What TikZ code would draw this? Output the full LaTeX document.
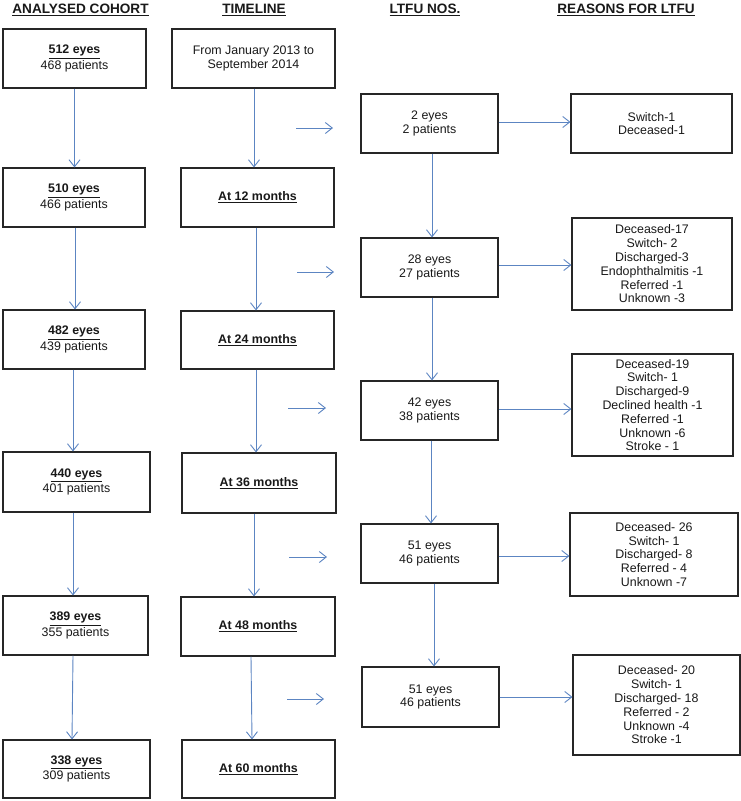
\documentclass[tikz,border=0pt]{standalone}
\usepackage{fontspec}
\setmainfont{Liberation Sans}
\usetikzlibrary{arrows.meta}
\definecolor{arr}{RGB}{92,133,194}
\newcommand{\myul}[1]{\underline{#1}}
\tikzset{
  box/.style={draw=black!85, line width=1.1pt, inner sep=0pt, align=center,
    text=black!90, font=\fontsize{12.4}{13.8}\selectfont},
  conn/.style={draw=arr, line width=0.9pt,
    -{Straight Barb[length=7pt,width=11pt,line width=0.9pt]}},
  hdr/.style={font=\fontsize{13.6}{15}\selectfont\bfseries, inner sep=0pt, text=black!90, anchor=base}
}
\begin{document}
\begin{tikzpicture}[x=1pt,y=-1pt]
\useasboundingbox[fill=white] (0,0) rectangle (741,801);

% headers
\node[hdr] (h1) at (80.5,13.5) {\myul{ANALYSED COHORT}};
\node[hdr] (h2) at (254,13.5) {\myul{TIMELINE}};
\node[hdr] (h3) at (425,13.5) {\myul{LTFU NOS.}};
\node[hdr] (h4) at (626,13.5) {\myul{REASONS FOR LTFU}};

% analysed cohort column
\node[box, minimum width=143, minimum height=59] (c1) at (74.5,58.5) {\textbf{\myul{512 eyes}}\\[1.5pt]468 patients};
\node[box, minimum width=142, minimum height=59] (c2) at (74,197.5) {\textbf{\myul{510 eyes}}\\[1.5pt]466 patients};
\node[box, minimum width=142, minimum height=59] (c3) at (74,339.5) {\textbf{\myul{482 eyes}}\\[1.5pt]439 patients};
\node[box, minimum width=147, minimum height=60] (c4) at (76.5,482) {\textbf{\myul{440 eyes}}\\[1.5pt]401 patients};
\node[box, minimum width=145, minimum height=59] (c5) at (75.5,625.5) {\textbf{\myul{389 eyes}}\\[1.5pt]355 patients};
\node[box, minimum width=147, minimum height=58] (c6) at (76.5,769) {\textbf{\myul{338 eyes}}\\[1.5pt]309 patients};

% timeline column
\node[box, minimum width=163, minimum height=59] (t1) at (253.5,58.5) {From January 2013 to\\September 2014};
\node[box, minimum width=153, minimum height=59] (t2) at (257.5,197.5) {\textbf{\myul{At 12 months}}};
\node[box, minimum width=153, minimum height=58] (t3) at (257.5,340) {\textbf{\myul{At 24 months}}};
\node[box, minimum width=154, minimum height=60] (t4) at (259,483) {\textbf{\myul{At 36 months}}};
\node[box, minimum width=154, minimum height=59] (t5) at (258,626.5) {\textbf{\myul{At 48 months}}};
\node[box, minimum width=153, minimum height=58] (t6) at (258.5,769) {\textbf{\myul{At 60 months}}};

% LTFU column
\node[box, minimum width=137, minimum height=59] (l1) at (429.5,123.5) {2 eyes\\2 patients};
\node[box, minimum width=137, minimum height=59] (l2) at (429.5,267.5) {28 eyes\\27 patients};
\node[box, minimum width=137, minimum height=59] (l3) at (429.5,410.5) {42 eyes\\38 patients};
\node[box, minimum width=137, minimum height=59] (l4) at (429.5,553.5) {51 eyes\\46 patients};
\node[box, minimum width=137, minimum height=60] (l5) at (430.5,697) {51 eyes\\46 patients};

% reasons column
\node[box, minimum width=161, minimum height=59] (r1) at (651.5,123.5) {Switch-1\\Deceased-1};
\node[box, minimum width=160, minimum height=92] (r2) at (652,264) {Deceased-17\\Switch- 2\\Discharged-3\\Endophthalmitis -1\\Referred -1\\Unknown -3};
\node[box, minimum width=161, minimum height=102] (r3) at (652.5,405) {Deceased-19\\Switch- 1\\Discharged-9\\Declined health -1\\Referred -1\\Unknown -6\\Stroke - 1};
\node[box, minimum width=168, minimum height=83] (r4) at (654,554.5) {Deceased- 26\\Switch- 1\\Discharged- 8\\Referred - 4\\Unknown -7};
\node[box, minimum width=167, minimum height=100] (r5) at (656.5,705) {Deceased- 20\\Switch- 1\\Discharged- 18\\Referred - 2\\Unknown -4\\Stroke -1};

% cohort arrows
\draw[conn] (c1.south) -- ([xshift=0.5pt]c2.north);
\draw[conn] ([xshift=1pt]c2.south) -- ([xshift=1pt]c3.north);
\draw[conn] ([xshift=-1pt]c3.south) -- ([xshift=-3.5pt]c4.north);
\draw[conn] ([xshift=-3.5pt]c4.south) -- ([xshift=-2.5pt]c5.north);
\draw[conn] ([xshift=-2.5pt]c5.south) -- ([xshift=-4.5pt]c6.north);

% timeline arrows
\draw[conn] ([xshift=0.5pt]t1.south) -- ([xshift=-3.5pt]t2.north);
\draw[conn] ([xshift=-1.5pt]t2.south) -- ([xshift=-1.5pt]t3.north);
\draw[conn] ([xshift=-1.5pt]t3.south) -- ([xshift=-3pt]t4.north);
\draw[conn] ([xshift=-5pt]t4.south) -- ([xshift=-4pt]t5.north);
\draw[conn] ([xshift=-7pt]t5.south) -- ([xshift=-6.5pt]t6.north);

% LTFU vertical arrows
\draw[conn] ([xshift=2.5pt]l1.south) -- ([xshift=2.5pt]l2.north);
\draw[conn] ([xshift=2.5pt]l2.south) -- ([xshift=2.5pt]l3.north);
\draw[conn] ([xshift=1.5pt]l3.south) -- ([xshift=1.5pt]l4.north);
\draw[conn] ([xshift=4.5pt]l4.south) -- ([xshift=3.5pt]l5.north);

% LTFU to reasons
\draw[conn] ([yshift=1.5pt]l1.east) coordinate (s1) -- (s1 -| r1.west);
\draw[conn] ([yshift=2.5pt]l2.east) coordinate (s2) -- (s2 -| r2.west);
\draw[conn] ([yshift=1.5pt]l3.east) coordinate (s3) -- (s3 -| r3.west);
\draw[conn] ([yshift=-2.5pt]l4.east) coordinate (s4) -- (s4 -| r4.west);
\draw[conn] (l5.east) coordinate (s5) -- (s5 -| r5.west);

% free-standing small arrows
\coordinate (a1s) at (296,128); \coordinate (a1e) at (333,128);
\coordinate (a2s) at (297,272); \coordinate (a2e) at (334,272);
\coordinate (a3s) at (288,408); \coordinate (a3e) at (326,408);
\coordinate (a4s) at (289,557); \coordinate (a4e) at (327,557);
\coordinate (a5s) at (287,699); \coordinate (a5e) at (324,699);
\draw[conn] (a1s) -- (a1e);
\draw[conn] (a2s) -- (a2e);
\draw[conn] (a3s) -- (a3e);
\draw[conn] (a4s) -- (a4e);
\draw[conn] (a5s) -- (a5e);
\end{tikzpicture}
\end{document}
